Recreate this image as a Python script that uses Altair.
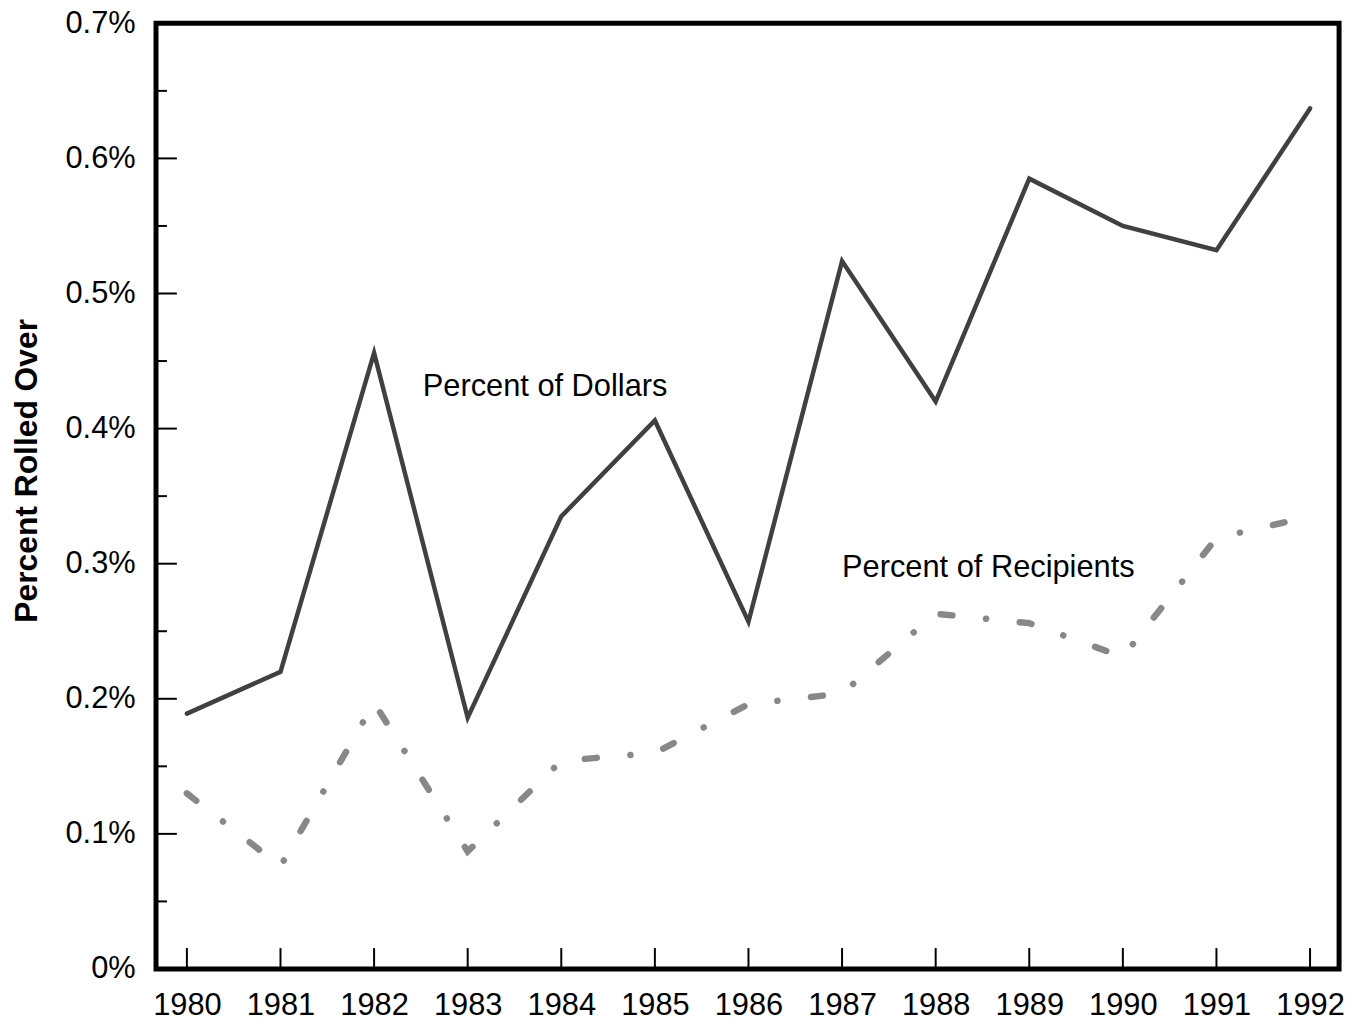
import altair as alt
import pandas as pd

years = list(range(1980, 1993))
pct_dollars = [0.189, 0.220, 0.456, 0.186, 0.335, 0.406, 0.257, 0.524, 0.420, 0.585, 0.550, 0.532, 0.637]
pct_recipients = [0.130, 0.076, 0.197, 0.087, 0.154, 0.160, 0.196, 0.204, 0.263, 0.256, 0.231, 0.319, 0.335]

y_major = [0.0, 0.1, 0.2, 0.3, 0.4, 0.5, 0.6, 0.7]
y_minor = [0.05, 0.15, 0.25, 0.35, 0.45, 0.55, 0.65]

labels = ["Percent of Dollars", "Percent of Recipients"]
label_x = [1982.52, 1987.0]
label_y = [0.431, 0.297]

W, H = 1191, 952
FONT = "Liberation Sans"

df = pd.DataFrame({"year": years, "dollars": pct_dollars, "recipients": pct_recipients})
lab_df = pd.DataFrame({"label": labels, "x": label_x, "y": label_y})
ymaj_df = pd.DataFrame({"v": y_major})
ymin_df = pd.DataFrame({"v": y_minor})
xt_df = pd.DataFrame({"year": years})

xscale = alt.Scale(domain=[1979.67, 1992.31], nice=False, zero=False)
yscale = alt.Scale(domain=[0, 0.7], nice=False, zero=True)

xaxis = alt.Axis(values=years, format="d", labelFontSize=31, labelFont=FONT, labelColor="black",
                 ticks=False, tickSize=0, domain=False, grid=False, labelPadding=22, title=None)
yaxis = alt.Axis(values=y_major, labelExpr="datum.value == 0 ? '0%' : format(datum.value, '.1f') + '%'",
                 labelFontSize=31, labelFont=FONT, labelColor="black", ticks=False, tickSize=0,
                 domain=False, grid=False, labelPadding=21,
                 title="Percent Rolled Over", titleFontSize=32, titleFont=FONT, titleFontWeight="bold",
                 titleColor="black", titleAngle=270, titleX=-130, titleY=450, titleAlign="center",
                 titleBaseline="middle")

base = alt.Chart(df)

dollars = base.mark_line(color="#404040", strokeWidth=4.5, strokeCap="round").encode(
    x=alt.X("year:Q", scale=xscale, axis=xaxis),
    y=alt.Y("dollars:Q", scale=yscale, axis=yaxis),
)
recipients = base.mark_line(color="#888888", strokeWidth=6.5, strokeCap="round",
                            strokeDash=[12, 34, 0.1, 34]).encode(
    x=alt.X("year:Q", scale=xscale),
    y=alt.Y("recipients:Q", scale=yscale),
)
texts = alt.Chart(lab_df).mark_text(align="left", baseline="middle", fontSize=31, font=FONT,
                                    color="black").encode(
    x=alt.X("x:Q", scale=xscale),
    y=alt.Y("y:Q", scale=yscale),
    text="label:N",
)
ymaj_ticks = alt.Chart(ymaj_df).mark_rule(color="black", strokeWidth=2).encode(
    y=alt.Y("v:Q", scale=yscale), x=alt.value(0), x2=alt.value(21))
ymin_ticks = alt.Chart(ymin_df).mark_rule(color="black", strokeWidth=2).encode(
    y=alt.Y("v:Q", scale=yscale), x=alt.value(0), x2=alt.value(11))
x_ticks = alt.Chart(xt_df).mark_rule(color="black", strokeWidth=2).encode(
    x=alt.X("year:Q", scale=xscale), y=alt.value(H), y2=alt.value(H - 21))

chart = alt.layer(ymaj_ticks, ymin_ticks, x_ticks, dollars, recipients, texts).properties(
    width=W, height=H,
    autosize=alt.AutoSizeParams(type="none"),
    padding={"left": 149, "top": 12, "right": 10, "bottom": 54},
).configure(
    background="white",
    view=alt.ViewConfig(stroke="black", strokeWidth=5),
)

chart.save("out.html", embed_options={"renderer": "svg", "actions": False})
